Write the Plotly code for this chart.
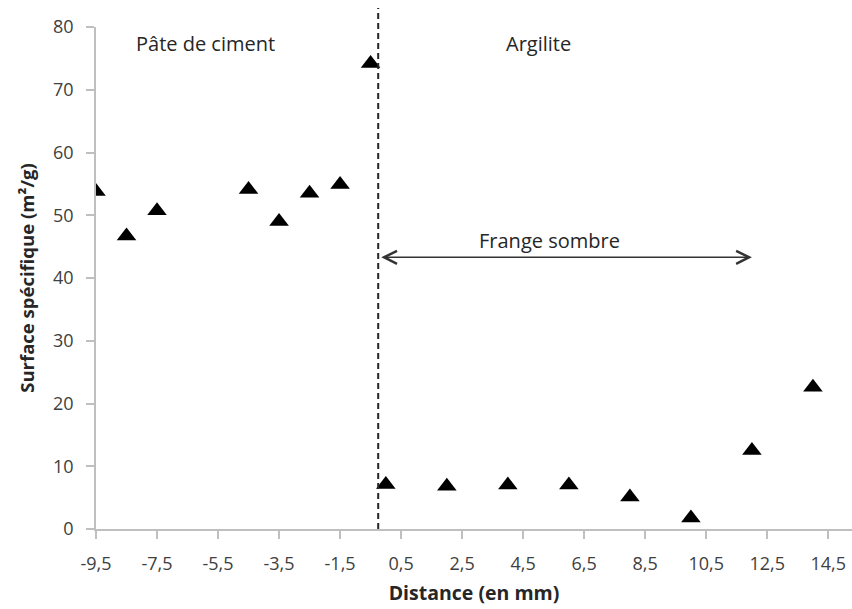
import plotly.graph_objects as go

# Data
distance_mm = [-9.5, -8.5, -7.5, -4.5, -3.5, -2.5, -1.5, -0.5,
               0, 2, 4, 6, 8, 10, 12, 14]
surface_m2g = [53.8, 46.7, 50.7, 54.1, 49.0, 53.5, 54.9, 74.2,
               7.1, 6.8, 7.0, 7.0, 5.1, 1.75, 12.5, 22.6]

x_tick_vals = [-9.5, -7.5, -5.5, -3.5, -1.5, 0.5, 2.5, 4.5, 6.5, 8.5, 10.5, 12.5, 14.5]
x_tick_text = ["-9,5", "-7,5", "-5,5", "-3,5", "-1,5", "0,5", "2,5", "4,5",
               "6,5", "8,5", "10,5", "12,5", "14,5"]
y_tick_vals = [0, 10, 20, 30, 40, 50, 60, 70, 80]

interface_x = -0.25
frange_start, frange_end, frange_y = -0.2, 12.0, 43.3

FONT = "Open Sans"
TXT = "#262626"
AX = "#bfbfbf"

fig = go.Figure()
fig.add_trace(go.Scatter(
    x=distance_mm, y=surface_m2g, mode="markers",
    marker=dict(symbol="triangle-up", size=17, color="black"),
    showlegend=False, hoverinfo="x+y",
))

# dashed interface line
fig.add_shape(type="line", xref="x", yref="paper",
              x0=interface_x, x1=interface_x, y0=0, y1=1.038,
              line=dict(color=TXT, width=2, dash="6px,4px"))

# double arrow "Frange sombre"
fig.add_annotation(x=frange_end, y=frange_y, ax=frange_start, ay=frange_y,
                   xref="x", yref="y", axref="x", ayref="y", text="",
                   showarrow=True, arrowhead=5, startarrowhead=5,
                   arrowside="end+start", arrowwidth=1.5, arrowsize=1.7,
                   startarrowsize=1.7, arrowcolor="#333333",
                   standoff=0, startstandoff=0)

labels = [("Pâte de ciment", -5.9, 77.3), ("Argilite", 5.0, 77.3),
          ("Frange sombre", 5.36, 45.9)]
for txt, lx, ly in labels:
    fig.add_annotation(x=lx, y=ly, xref="x", yref="y", text=txt,
                       showarrow=False, font=dict(family=FONT, size=20, color=TXT))

fig.update_layout(
    width=852, height=609,
    margin=dict(l=96, r=0, t=27, b=80),
    paper_bgcolor="white", plot_bgcolor="white",
    font=dict(family=FONT, color="#404040"),
    xaxis=dict(range=[-9.5, 15.28], tickvals=x_tick_vals, ticktext=x_tick_text,
               automargin=False,
               showgrid=False, zeroline=False, showline=True, linecolor=AX, linewidth=1.5,
               ticks="outside", ticklen=8, tickcolor=AX, tickwidth=1.5,
               tickfont=dict(family=FONT, size=18, color="#404040"),
               ticklabelstandoff=10,
               title=dict(text="<b>Distance (en mm)</b>", standoff=12,
                          font=dict(family=FONT, size=19.5, color=TXT))),
    yaxis=dict(range=[0, 80], tickvals=y_tick_vals,
               automargin=False,
               showgrid=False, zeroline=False, showline=True, linecolor=AX, linewidth=1.5,
               ticks="outside", ticklen=8, tickcolor=AX, tickwidth=1.5,
               tickfont=dict(family=FONT, size=18, color="#404040"),
               ticklabelstandoff=9,
               title=dict(text="<b>Surface spécifique (m²/g)</b>", standoff=14,
                          font=dict(family=FONT, size=18.5, color=TXT))),
)

fig.write_html("out.html", config={"displayModeBar": False},
               post_script="document.body.style.margin='0';")
